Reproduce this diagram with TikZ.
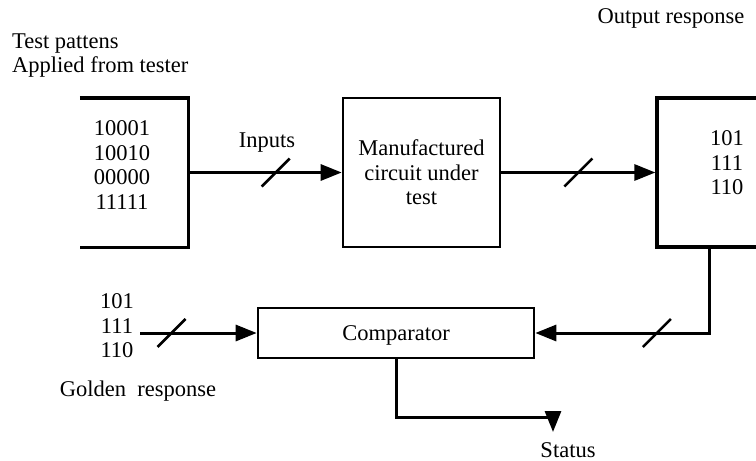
\documentclass[tikz,border=0pt]{standalone}
\usepackage{fontspec}
\setmainfont{Liberation Serif}
\usetikzlibrary{arrows.meta,positioning}

\tikzset{
	lbl/.style={inner sep=1pt,align=center,font=\fontsize{22.5}{24.5}\selectfont},
	block/.style={draw,line width=2.6pt,inner sep=0pt,align=center,
		font=\fontsize{22.5}{24.5}\selectfont},
	bus/.style={line width=3pt,-{Triangle[length=21pt,width=16pt]}},
	slash/.style={minimum size=25pt,inner sep=0pt},
}

\begin{document}
\begin{tikzpicture}[x=1pt,y=-1pt]
	\clip (0,0) rectangle (756,461);

	% blocks
	\node[minimum width=108pt,minimum height=149pt,inner sep=0pt] (tester) at (134,172.5) {};
	\node[lbl] (pat) at (122,165) {10001\\10010\\00000\\11111};
	\node[block,minimum width=157pt,minimum height=149pt] (cut) at (421.5,172.5) {Manufactured\\circuit under\\test};
	\node[block,line width=3.2pt,minimum width=140pt,minimum height=149pt] (out) at (727,172.5) {};
	\node[lbl] (outval) at (727,163) {101\\111\\110};
	\node[block,minimum width=276pt,minimum height=50pt,text depth=0pt] (cmp) at (396,333) {Comparator};
	\node[lbl] (gold) at (117,326) {101\\111\\110};

	% labels
	\node[lbl,anchor=west,align=left] (tp) at (11,55.5) {Test pattens\\Applied from tester};
	\node[lbl] (or) at (671,18) {Output response};
	\node[lbl] (inp) at (267,143) {Inputs};
	\node[lbl] (gr) at (138,391) {Golden\ \ response};
	\node[lbl] (status) at (568,450) {Status};

	% tester bracket
	\draw[line width=3.4pt] (tester.north west) -- (tester.north east)
		-- (tester.south east) -- (tester.south west);

	\coordinate (drop) at (709,247);
	\coordinate (bend) at (553,417);
	\coordinate (stat) at (553,432);
	\coordinate (gin) at (140,333);

	% connectors
	\draw[bus] (tester.east) -- node[slash,pos=0.57] (s1) {} (cut.west);
	\draw[bus] (cut.east) -- node[slash,pos=0.5] (s2) {} (out.west |- cut.east);
	\draw[bus] (drop) |- node[slash,pos=0.65] (s3) {} (cmp.east);
	\draw[bus] (gin) -- node[slash,pos=0.27] (s4) {} (cmp.west);
	\draw[bus] (cmp.south) |- (bend) -- (stat);

	% bus slashes
	\foreach \s in {s1,s2,s3,s4}
		\draw[line width=2.6pt] (\s.south west) -- (\s.north east);
\end{tikzpicture}
\end{document}
